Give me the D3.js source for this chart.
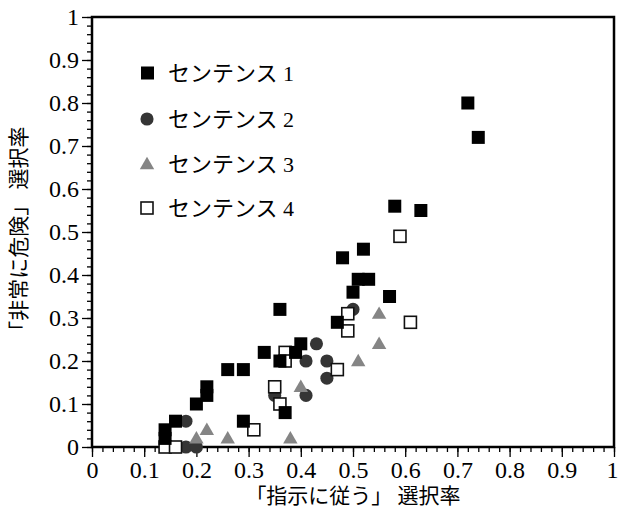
<!DOCTYPE html>
<html>
<head>
<meta charset="utf-8">
<script src="https://cdn.jsdelivr.net/npm/d3@7"></script>
<style>
  body { margin: 0; background: #fff; }
  svg { display: block; }
  svg text.num { font-family: "Liberation Serif", "Times New Roman", Times, "DejaVu Serif", serif; }
  svg text.jp { font-family: "Liberation Serif", "Times New Roman", Times, "Noto Sans CJK JP", serif; }
</style>
</head>
<body>
<svg class="target"></svg>
<script>
// data: [x, y]
const sentence1 = [[0.14, 0.02], [0.14, 0.04], [0.16, 0.06], [0.20, 0.10], [0.22, 0.12], [0.22, 0.14],
    [0.26, 0.18], [0.29, 0.18], [0.29, 0.06], [0.33, 0.22], [0.36, 0.20], [0.36, 0.32], [0.37, 0.08],
    [0.39, 0.22], [0.40, 0.24], [0.47, 0.29], [0.48, 0.44], [0.50, 0.36], [0.51, 0.39], [0.53, 0.39],
    [0.52, 0.46], [0.57, 0.35], [0.58, 0.56], [0.63, 0.55], [0.72, 0.80], [0.74, 0.72]];
const sentence2 = [[0.18, 0.00], [0.20, 0.00], [0.18, 0.06], [0.35, 0.12], [0.41, 0.12], [0.41, 0.20],
    [0.43, 0.24], [0.45, 0.20], [0.45, 0.16], [0.50, 0.32]];
const sentence3 = [[0.20, 0.02], [0.22, 0.04], [0.26, 0.02], [0.38, 0.02], [0.40, 0.14], [0.51, 0.20],
    [0.55, 0.24], [0.55, 0.31]];
const sentence4 = [[0.14, 0.00], [0.16, 0.00], [0.31, 0.04], [0.35, 0.14], [0.36, 0.10], [0.37, 0.22],
    [0.37, 0.20], [0.47, 0.18], [0.49, 0.27], [0.49, 0.31], [0.59, 0.49], [0.61, 0.29]];
const legendLabels = ["センテンス 1", "センテンス 2", "センテンス 3", "センテンス 4"];
const majorTicks = [0, 0.1, 0.2, 0.3, 0.4, 0.5, 0.6, 0.7, 0.8, 0.9, 1];
const xTitle = "「指示に従う」 選択率";
const yTitle = "「非常に危険」 選択率";

document.addEventListener("DOMContentLoaded", function() {
    drawChart();
});

function drawChart() {
    const width = 618;
    const height = 519;
    const svg = d3.select(".target")
        .attr("width", width)
        .attr("height", height)
        .attr("viewBox", [0, 0, width, height]);

    const x = d3.scaleLinear().domain([0, 1]).range([92, 614]);
    const y = d3.scaleLinear().domain([0, 1]).range([447, 17]);
    const minorTicks = d3.range(0, 51).map(i => i / 50);

    // minor ticks
    svg.append("g")
        .attr("transform", "translate(0," + y(0) + ")")
        .call(d3.axisBottom(x).tickValues(minorTicks).tickSize(5).tickFormat(""))
        .call(g => g.select(".domain").remove());
    svg.append("g")
        .attr("transform", "translate(" + x(0) + ",0)")
        .call(d3.axisLeft(y).tickValues(minorTicks).tickSize(5).tickFormat(""))
        .call(g => g.select(".domain").remove());

    // major ticks and labels
    const xAxis = svg.append("g")
        .attr("transform", "translate(0," + y(0) + ")")
        .call(d3.axisBottom(x).tickValues(majorTicks).tickSize(10).tickPadding(4).tickFormat(d3.format("~g")));
    xAxis.attr("font-family", null);
    xAxis.select(".domain").remove();
    xAxis.selectAll("text").attr("class", "num").attr("font-size", 24).attr("fill", "#000");
    // keep the right "1" inside the window
    xAxis.selectAll("text").filter(d => d === 1).attr("dx", -2);

    const yAxis = svg.append("g")
        .attr("transform", "translate(" + x(0) + ",0)")
        .call(d3.axisLeft(y).tickValues(majorTicks).tickSize(10).tickPadding(3).tickFormat(d3.format("~g")));
    yAxis.attr("font-family", null);
    yAxis.select(".domain").remove();
    yAxis.selectAll("text").attr("class", "num").attr("font-size", 24).attr("fill", "#000");

    svg.selectAll(".tick line").attr("stroke", "#000").attr("stroke-width", 1.3);

    // frame
    svg.append("rect")
        .attr("x", x(0))
        .attr("y", y(1))
        .attr("width", x(1) - x(0))
        .attr("height", y(0) - y(1))
        .attr("fill", "none")
        .attr("stroke", "#000")
        .attr("stroke-width", 2.5);

    // axis titles
    svg.append("text")
        .attr("class", "jp")
        .attr("x", 353)
        .attr("y", 503)
        .attr("text-anchor", "middle")
        .attr("font-size", 21)
        .text(xTitle);
    svg.append("text")
        .attr("class", "jp")
        .attr("transform", "translate(26,234) rotate(-90)")
        .attr("text-anchor", "middle")
        .attr("font-size", 21)
        .text(yTitle);

    const sym = d3.symbol();

    // points
    svg.append("g").selectAll("path")
        .data(sentence2).enter().append("path")
        .attr("transform", d => "translate(" + x(d[0]) + "," + y(d[1]) + ")")
        .attr("d", sym.type(d3.symbolCircle).size(135)())
        .attr("fill", "#353535");

    svg.append("g").selectAll("path")
        .data(sentence3).enter().append("path")
        .attr("transform", d => "translate(" + x(d[0]) + "," + (y(d[1]) + 1) + ")")
        .attr("d", sym.type(d3.symbolTriangle).size(90)())
        .attr("fill", "#858585");

    svg.append("g").selectAll("rect")
        .data(sentence4).enter().append("rect")
        .attr("x", d => x(d[0]) - 6)
        .attr("y", d => y(d[1]) - 6)
        .attr("width", 12)
        .attr("height", 12)
        .attr("fill", "#fff")
        .attr("stroke", "#111")
        .attr("stroke-width", 1.6);

    svg.append("g").selectAll("rect")
        .data(sentence1).enter().append("rect")
        .attr("x", d => x(d[0]) - 6.5)
        .attr("y", d => y(d[1]) - 6.5)
        .attr("width", 13)
        .attr("height", 13)
        .attr("fill", "#000");

    // legend
    const legend = svg.append("g");
    const rowY = [73, 119, 164, 208];
    legend.append("rect").attr("x", 141).attr("y", rowY[0] - 6.5).attr("width", 13).attr("height", 13).attr("fill", "#000");
    legend.append("path").attr("transform", "translate(147," + rowY[1] + ")")
        .attr("d", sym.type(d3.symbolCircle).size(135)()).attr("fill", "#353535");
    legend.append("path").attr("transform", "translate(147," + (rowY[2] + 1) + ")")
        .attr("d", sym.type(d3.symbolTriangle).size(90)()).attr("fill", "#858585");
    legend.append("rect").attr("x", 141).attr("y", rowY[3] - 6).attr("width", 12).attr("height", 12)
        .attr("fill", "#fff").attr("stroke", "#111").attr("stroke-width", 1.6);

    legend.selectAll("text")
        .data(legendLabels).enter().append("text")
        .attr("class", "jp")
        .attr("x", 168)
        .attr("y", (d, i) => rowY[i] + 8)
        .attr("font-size", 22)
        .text(d => d);
}
</script>
</body>
</html>
